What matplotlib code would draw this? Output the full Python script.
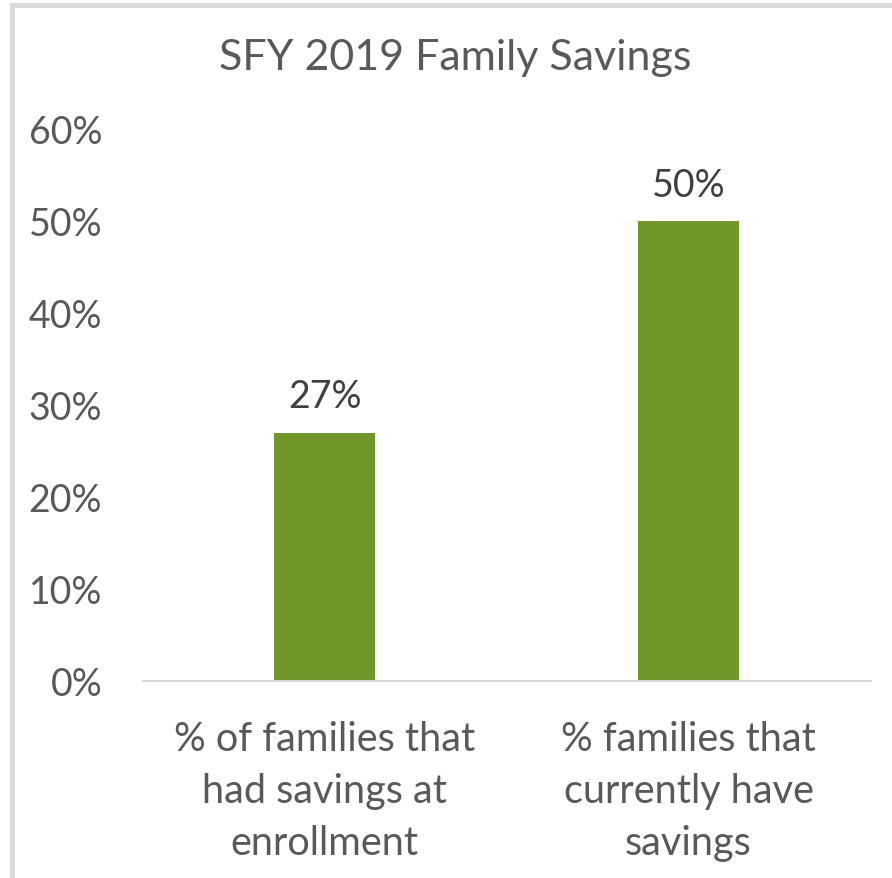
import matplotlib.pyplot as plt
from matplotlib.lines import Line2D

# chart data
categories = ["% of families that\nhad savings at\nenrollment",
              "% families that\ncurrently have\nsavings"]
values = [0.27, 0.50]
value_labels = ["27%", "50%"]
yticks = [0, 0.1, 0.2, 0.3, 0.4, 0.5, 0.6]
ytick_labels = ["0%", "10%", "20%", "30%", "40%", "50%", "60%"]

plt.rcParams['font.family'] = ['Lato', 'DejaVu Sans']

fig = plt.figure(figsize=(8.92, 8.79), dpi=100)
W, H = 892, 879
ax = fig.add_axes([142.5 / W, 1 - 682 / H, 728 / W, 552 / H])

x = range(len(categories))
bars = ax.bar(x, values, width=0.277, color='#71972A')

for b, lab in zip(bars, value_labels):
    ax.annotate(lab, (b.get_x() + b.get_width() / 2, b.get_height()),
                xytext=(0, 26), textcoords='offset points',
                ha='center', va='center', fontsize=27, color='#404040')

ax.set_xlim(-0.5, 1.5)
ax.set_ylim(0, 0.6)
ax.set_yticks(yticks)
ax.set_yticklabels(ytick_labels, fontsize=27, color='#595959')
ax.set_xticks(list(x))
ax.set_xticklabels(categories, fontsize=28.5, color='#595959', linespacing=1.5)
ax.tick_params(axis='both', length=0)
ax.tick_params(axis='x', pad=28)
ax.tick_params(axis='y', pad=29)

for s in ['top', 'right', 'left']:
    ax.spines[s].set_visible(False)
ax.spines['bottom'].set_color('#D9D9D9')
ax.spines['bottom'].set_linewidth(1.5)

fig.text(455 / W, 1 - 58 / H, "SFY 2019 Family Savings", ha='center', va='center',
         fontsize=31, color='#595959')

# outer border (left and top only visible)
fig.add_artist(Line2D([12 / W, 12 / W], [0, 1 - 6 / H], color='#D9D9D9', lw=3.5,
                      transform=fig.transFigure))
fig.add_artist(Line2D([12 / W, 1], [1 - 6 / H, 1 - 6 / H], color='#D9D9D9', lw=3.5,
                      transform=fig.transFigure))

fig.savefig("out.png", dpi=100)
